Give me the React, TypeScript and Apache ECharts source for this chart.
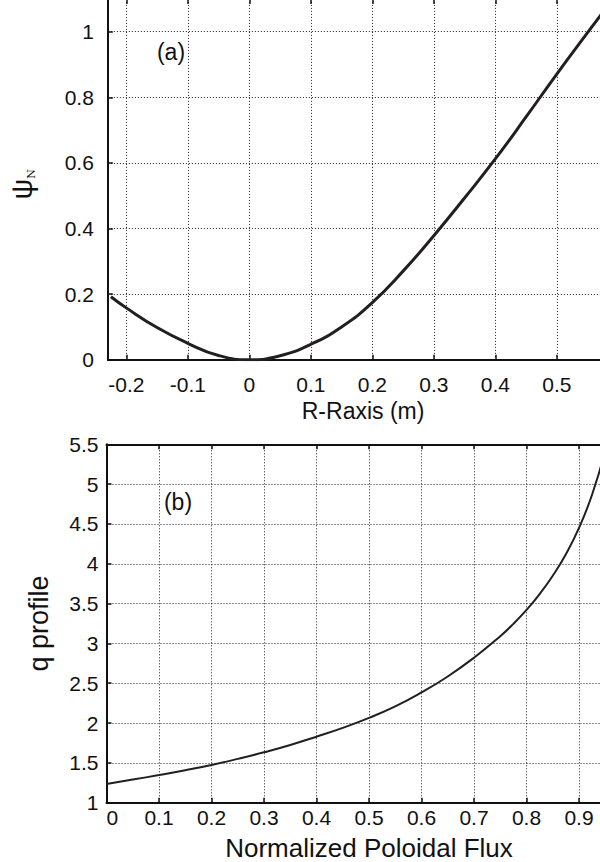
import React, { useEffect, useRef } from 'react';
import * as echarts from 'echarts';

// Panel (a): normalised poloidal flux along the midplane
const rMinusRaxis = [-0.225, -0.2, -0.15, -0.1, -0.05, 0, 0.05, 0.1, 0.15, 0.2, 0.25, 0.3, 0.35, 0.4, 0.45, 0.5, 0.55, 0.58];
const psiNorm = [0.192, 0.158, 0.098, 0.05, 0.013, 0.0, 0.012, 0.047, 0.1, 0.174, 0.27, 0.378, 0.493, 0.612, 0.74, 0.871, 0.997, 1.072];

// Panel (b): safety factor against normalised poloidal flux
const poloidalFlux = [0, 0.05, 0.1, 0.15, 0.2, 0.25, 0.3, 0.35, 0.4, 0.45, 0.5, 0.55, 0.6, 0.65, 0.7, 0.75, 0.775, 0.8, 0.825, 0.85, 0.875, 0.9, 0.925, 0.95];
const qProfile = [1.235, 1.29, 1.347, 1.408, 1.474, 1.55, 1.633, 1.725, 1.829, 1.94, 2.065, 2.21, 2.385, 2.585, 2.82, 3.09, 3.245, 3.42, 3.62, 3.85, 4.12, 4.45, 4.87, 5.42];

const panelLabels = ['(a)', '(b)'];

const fontFamily = '"Liberation Sans", Arial, Helvetica, sans-serif';
const ink = '#111';
const curveColor = '#231f20';

// The drawing area is a little larger than the 600x862 window so the
// plot frames run off its top and right edges; it sits 2px above the page top.
const CANVAS_W = 640;
const CANVAS_H = 864;
const SHIFT_Y = 2;

const dottedGrid = { show: true, lineStyle: { color: '#222', width: 1, type: [1, 2] as number[] } };
const axisLine = { show: true, onZero: false, lineStyle: { color: ink, width: 2 } };
const innerTicks = { show: true, inside: true, length: 5, lineStyle: { color: ink, width: 1.5 } };

// Only label ticks that fall on the step; the extent ends get no label.
const stepLabel = (step: number) => (v: number) => {
  const k = v / step;
  if (Math.abs(k - Math.round(k)) > 1e-6) return '';
  const r = Math.round(k) * step;
  return String(Math.round(r * 100) / 100);
};

export default function App() {
  const ref = useRef<HTMLDivElement>(null);

  useEffect(() => {
    if (!ref.current) return;
    const chart = echarts.init(ref.current, undefined, { renderer: 'svg' });

    const labelStyle = { color: ink, fontFamily, fontSize: 21 };

    chart.setOption({
      animation: false,
      backgroundColor: '#fff',
      grid: [
        {
          left: 107.85,
          right: CANVAS_W - 618.3,
          top: 0.9,
          bottom: CANVAS_H - (359.7 + SHIFT_Y),
          containLabel: false,
          outerBoundsMode: 'none',
        },
        {
          left: 106.5,
          right: CANVAS_W - 631.5,
          top: 444.3 + SHIFT_Y,
          bottom: CANVAS_H - (802.7 + SHIFT_Y),
          containLabel: false,
          outerBoundsMode: 'none',
        },
      ],
      xAxis: [
        {
          gridIndex: 0,
          type: 'value',
          min: -0.23,
          max: 0.6,
          splitNumber: 8,
          axisLine,
          axisTick: innerTicks,
          axisLabel: { ...labelStyle, margin: 14, showMaxLabel: false, formatter: stepLabel(0.1) },
          splitLine: dottedGrid,
          name: 'R-Raxis (m)',
          nameLocation: 'middle',
          nameGap: 40,
          nameMoveOverlap: false,
          nameTextStyle: { color: ink, fontFamily, fontSize: 23 },
        },
        {
          gridIndex: 0,
          type: 'value',
          position: 'top',
          min: -0.23,
          max: 0.6,
          splitNumber: 8,
          axisLine,
          axisTick: innerTicks,
          axisLabel: { show: false },
          splitLine: { show: false },
        },
        {
          gridIndex: 1,
          type: 'value',
          min: 0,
          max: 1,
          interval: 0.1,
          axisLine,
          axisTick: innerTicks,
          axisLabel: { ...labelStyle, margin: 4, alignMinLabel: 'left', showMaxLabel: false, formatter: stepLabel(0.1) },
          splitLine: dottedGrid,
          name: 'Normalized Poloidal Flux',
          nameLocation: 'middle',
          nameGap: 32,
          nameMoveOverlap: false,
          nameTextStyle: { color: ink, fontFamily, fontSize: 26, lineHeight: 26 },
        },
        {
          gridIndex: 1,
          type: 'value',
          position: 'top',
          min: 0,
          max: 1,
          interval: 0.1,
          axisLine,
          axisTick: innerTicks,
          axisLabel: { show: false },
          splitLine: { show: false },
        },
      ],
      yAxis: [
        {
          gridIndex: 0,
          type: 'value',
          min: 0,
          max: 1.1,
          splitNumber: 6,
          axisLine,
          axisTick: innerTicks,
          axisLabel: { ...labelStyle, margin: 14, formatter: stepLabel(0.2) },
          splitLine: dottedGrid,
          name: '{p|ψ}{n|N}',
          nameLocation: 'middle',
          nameGap: 71,
          nameMoveOverlap: false,
          nameTextStyle: {
            color: ink,
            padding: [0, 10, 0, 0],
            rich: {
              p: { fontSize: 29, fontFamily, color: ink },
              n: { fontSize: 11, fontFamily: '"DejaVu Serif", serif', color: ink, verticalAlign: 'bottom' },
            },
          },
        },
        {
          gridIndex: 1,
          type: 'value',
          min: 1,
          max: 5.5,
          interval: 0.5,
          axisLine,
          axisTick: innerTicks,
          axisLabel: { ...labelStyle, margin: 8, padding: [8, 0, 0, 0], formatter: stepLabel(0.5) },
          splitLine: dottedGrid,
          name: 'q profile',
          nameLocation: 'middle',
          nameGap: 54,
          nameMoveOverlap: false,
          nameTextStyle: { color: ink, fontFamily, fontSize: 27 },
        },
      ],
      series: [
        {
          type: 'line',
          xAxisIndex: 0,
          yAxisIndex: 0,
          data: rMinusRaxis.map((r, i) => [r, psiNorm[i]]),
          showSymbol: false,
          smooth: true,
          lineStyle: { color: curveColor, width: 3 },
          clip: true,
        },
        {
          type: 'line',
          xAxisIndex: 2,
          yAxisIndex: 1,
          data: poloidalFlux.map((f, i) => [f, qProfile[i]]),
          showSymbol: false,
          smooth: true,
          lineStyle: { color: curveColor, width: 2 },
          clip: true,
        },
      ],
      graphic: [
        {
          type: 'text',
          x: 171,
          y: 52 + SHIFT_Y,
          style: { text: panelLabels[0], fontSize: 23, fontFamily, fill: ink, align: 'center', verticalAlign: 'middle' },
        },
        {
          type: 'text',
          x: 178,
          y: 502 + SHIFT_Y,
          style: { text: panelLabels[1], fontSize: 23, fontFamily, fill: ink, align: 'center', verticalAlign: 'middle' },
        },
      ],
    });

    return () => chart.dispose();
  }, []);

  return (
    <div
      ref={ref}
      style={{ position: 'fixed', left: 0, top: -SHIFT_Y, width: CANVAS_W, height: CANVAS_H }}
    />
  );
}
